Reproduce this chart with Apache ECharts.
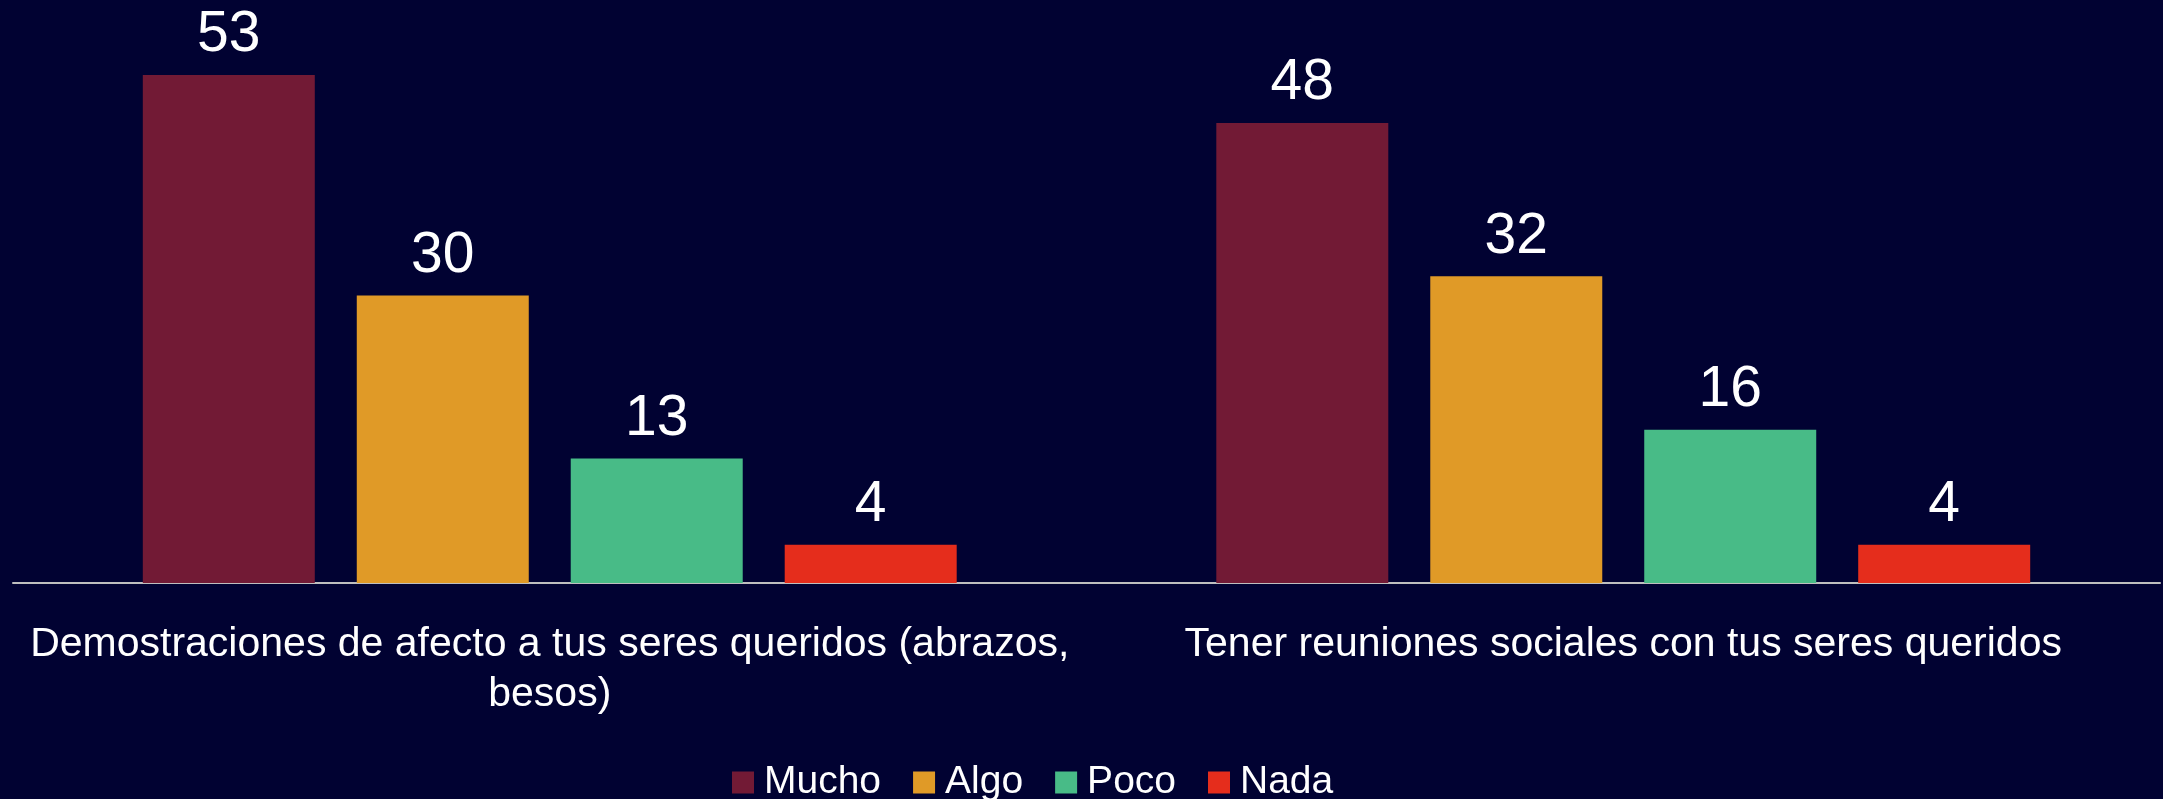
<!DOCTYPE html>
<html>
<head>
<meta charset="utf-8">
<script src="https://cdn.jsdelivr.net/npm/echarts@6/dist/echarts.min.js"></script>
<style>
html,body{margin:0;padding:0;background:#010232;}
#c{width:2163px;height:799px;}
</style>
</head>
<body>
<div id="c"></div>
<script>
const categories = [
  "Demostraciones de afecto a tus seres queridos (abrazos,\nbesos)",
  "Tener reuniones sociales con tus seres queridos"
];
const seriesNames = ["Mucho", "Algo", "Poco", "Nada"];
const mucho = [53, 48];
const algo = [30, 32];
const poco = [13, 16];
const nada = [4, 4];
const seriesValues = [mucho, algo, poco, nada];
const colors = ["#721A35", "#E09A27", "#48BB87", "#E52D1C"];

const FONT = "'Liberation Sans', Arial, sans-serif";
const chart = echarts.init(document.getElementById('c'), null, {renderer: 'canvas'});
chart.setOption({
  backgroundColor: '#010232',
  animation: false,
  grid: {left: 13, right: 3, top: 8, bottom: 216, containLabel: false},
  legend: {
    data: seriesNames,
    left: 727,
    top: 758,
    itemWidth: 22,
    itemHeight: 22,
    itemGap: 32,
    icon: 'rect',
    textStyle: {color: '#ffffff', fontSize: 39, fontFamily: FONT, padding: [0, 0, 0, 5]}
  },
  xAxis: {
    type: 'category',
    data: categories,
    axisLine: {show: true, lineStyle: {color: '#BFBFBF', width: 2}},
    axisTick: {show: false},
    axisLabel: {color: '#ffffff', fontSize: 41, fontFamily: FONT, margin: 37, lineHeight: 50, interval: 0}
  },
  yAxis: {
    type: 'value',
    min: 0,
    max: 60,
    show: false,
    splitLine: {show: false}
  },
  series: seriesNames.map((name, i) => ({
    name: name,
    type: 'bar',
    data: seriesValues[i],
    barWidth: 172,
    barGap: '24.4%',
    itemStyle: {color: colors[i]},
    label: {
      show: true,
      position: 'top',
      distance: 11,
      color: '#ffffff',
      fontSize: 57,
      fontFamily: FONT
    }
  }))
});
</script>
</body>
</html>
